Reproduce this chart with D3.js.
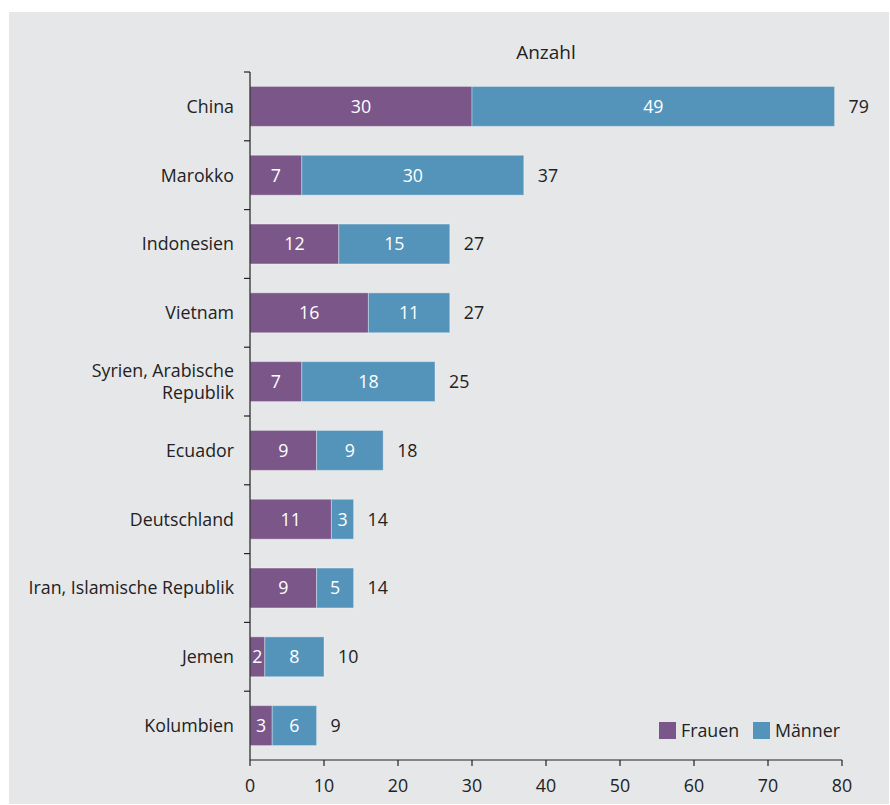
<!DOCTYPE html>
<html>
<head>
<meta charset="utf-8">
<script src="https://cdn.jsdelivr.net/npm/d3@7/dist/d3.min.js"></script>
<style>
  html, body { margin: 0; padding: 0; background: #fff; }
  svg text { font-family: "Open Sans", "Noto Sans", sans-serif; fill: #222; }
</style>
</head>
<body>
<svg id="chart" width="890" height="805"></svg>
<script>
const countries = ["China", "Marokko", "Indonesien", "Vietnam", "Syrien, Arabische Republik",
  "Ecuador", "Deutschland", "Iran, Islamische Republik", "Jemen", "Kolumbien"];
const frauen = [30, 7, 12, 16, 7, 9, 11, 9, 2, 3];
const maenner = [49, 30, 15, 11, 18, 9, 3, 5, 8, 6];
const xTicks = [0, 10, 20, 30, 40, 50, 60, 70, 80];
const seriesNames = ["Frauen", "Männer"];

// two-line label for the long Syria entry
const labelLines = {
  "Syrien, Arabische Republik": ["Syrien, Arabische", "Republik"]
};

const COLORS = { Frauen: "#7b5689", "Männer": "#5494bb" };
const FS = 17.8;

const svg = d3.select("#chart");

svg.append("rect")
  .attr("x", 9).attr("y", 12)
  .attr("width", 880).attr("height", 792)
  .attr("fill", "#e6e7e9");

const plotLeft = 250, plotRight = 842, plotTop = 72, plotBottom = 760;

const x = d3.scaleLinear().domain([0, 80]).range([plotLeft, plotRight]);
const y = d3.scaleBand().domain(countries).range([plotTop, plotBottom]).paddingInner(0.42).paddingOuter(0.21);

const rows = countries.map((c, i) => ({ country: c, Frauen: frauen[i], "Männer": maenner[i] }));
const stacked = d3.stack().keys(seriesNames)(rows);

// bars
stacked.forEach(layer => {
  const g = svg.append("g");
  g.selectAll("rect")
    .data(layer)
    .join("rect")
    .attr("x", d => x(d[0]))
    .attr("y", d => y(d.data.country))
    .attr("width", d => x(d[1]) - x(d[0]))
    .attr("height", y.bandwidth())
    .attr("fill", COLORS[layer.key])
    .attr("stroke", "#ffffff")
    .attr("stroke-opacity", 0.35)
    .attr("stroke-width", 1);

  g.selectAll("text")
    .data(layer)
    .join("text")
    .attr("x", d => (x(d[0]) + x(d[1])) / 2)
    .attr("y", d => y(d.data.country) + y.bandwidth() / 2)
    .attr("dy", "0.36em")
    .attr("text-anchor", "middle")
    .attr("font-size", FS)
    .style("fill", "#fff")
    .text(d => d[1] - d[0]);
});

// totals
svg.append("g").selectAll("text")
  .data(rows)
  .join("text")
  .attr("x", d => x(d.Frauen + d["Männer"]) + 14)
  .attr("y", d => y(d.country) + y.bandwidth() / 2)
  .attr("dy", "0.36em")
  .attr("font-size", FS)
  .text(d => d.Frauen + d["Männer"]);

// y axis line with ticks between bands
const yAxis = svg.append("g");
yAxis.append("line")
  .attr("x1", plotLeft).attr("x2", plotLeft)
  .attr("y1", plotTop).attr("y2", plotBottom)
  .attr("stroke", "#222").attr("stroke-width", 1.2);
const boundaries = d3.range(countries.length).map(i => plotTop + i * (plotBottom - plotTop) / countries.length);
yAxis.selectAll(".tick")
  .data(boundaries)
  .join("line")
  .attr("x1", plotLeft - 6).attr("x2", plotLeft)
  .attr("y1", d => d).attr("y2", d => d)
  .attr("stroke", "#222").attr("stroke-width", 1.2);

// category labels
svg.append("g").selectAll("text")
  .data(countries)
  .join("text")
  .attr("text-anchor", "end")
  .attr("font-size", FS)
  .each(function(c) {
    const lines = labelLines[c] || [c];
    const cy = y(c) + y.bandwidth() / 2;
    const lh = 22;
    d3.select(this).selectAll("tspan")
      .data(lines)
      .join("tspan")
      .attr("x", 234)
      .attr("y", (d, i) => cy + (i - (lines.length - 1) / 2) * lh)
      .attr("dy", "0.36em")
      .text(d => d);
  });

// x axis
const xAxis = svg.append("g");
xAxis.append("line")
  .attr("x1", plotLeft).attr("x2", plotRight)
  .attr("y1", plotBottom).attr("y2", plotBottom)
  .attr("stroke", "#222").attr("stroke-width", 1.2);
xAxis.selectAll(".tk")
  .data(xTicks)
  .join("line")
  .attr("x1", d => x(d)).attr("x2", d => x(d))
  .attr("y1", plotBottom).attr("y2", plotBottom + 6)
  .attr("stroke", "#222").attr("stroke-width", 1.2);
xAxis.selectAll("text")
  .data(xTicks)
  .join("text")
  .attr("x", d => x(d))
  .attr("y", 786)
  .attr("dy", "0.36em")
  .attr("text-anchor", "middle")
  .attr("font-size", FS)
  .text(d => d);

svg.append("text")
  .attr("x", (plotLeft + plotRight) / 2)
  .attr("y", 52)
  .attr("dy", "0.36em")
  .attr("text-anchor", "middle")
  .attr("font-size", 19)
  .text("Anzahl");

// legend
const legend = svg.append("g");
const legendItems = [{ key: "Frauen", x: 659 }, { key: "Männer", x: 753 }];
legend.selectAll("rect")
  .data(legendItems)
  .join("rect")
  .attr("x", d => d.x).attr("y", 722)
  .attr("width", 17).attr("height", 17)
  .attr("fill", d => COLORS[d.key]);
legend.selectAll("text")
  .data(legendItems)
  .join("text")
  .attr("x", d => d.x + 22).attr("y", 730.5)
  .attr("dy", "0.36em")
  .attr("font-size", FS)
  .text(d => d.key);
</script>
</body>
</html>
